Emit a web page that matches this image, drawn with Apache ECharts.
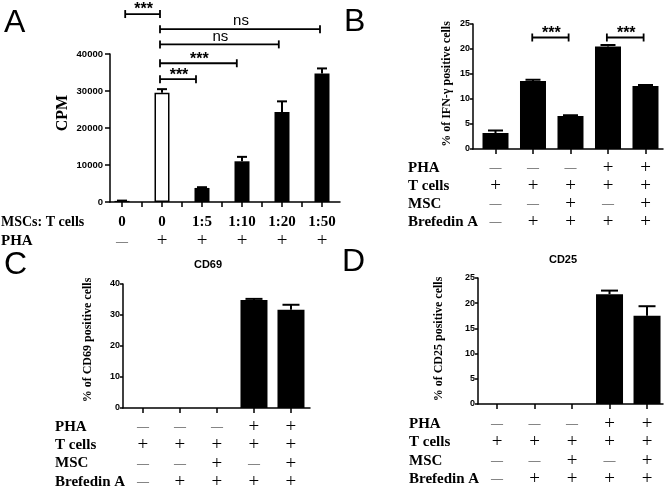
<!DOCTYPE html>
<html>
<head>
<meta charset="utf-8">
<script src="https://cdn.jsdelivr.net/npm/echarts@6/dist/echarts.min.js"></script>
<style>
html, body { margin: 0; padding: 0; background: #fff; }
#main { width: 672px; height: 492px; }
</style>
</head>
<body>
<div id="main"></div>
<script>
// panel A - proliferation (CPM), bars sit at x = 1..6
var ratioA = ['0', '0', '1:5', '1:10', '1:20', '1:50'];
var phaA = ['-', '+', '+', '+', '+', '+'];
var cpm = [300, 29500, 3800, 11000, 24300, 34700];
var cpmErr = [380, 30500, 4000, 12200, 27200, 36100];
// [from, to, height, label]
var sigA = [
	[1.08, 1.95, 50800, '***'],
	[1.95, 5.95, 46700, 'ns'],
	[1.95, 4.92, 42600, 'ns'],
	[1.95, 3.87, 37500, '***'],
	[1.95, 2.85, 33200, '***']
];

// conditions for B, C, D
var pha = ['-', '-', '-', '+', '+'];
var tcells = ['+', '+', '+', '+', '+'];
var msc = ['-', '-', '+', '-', '+'];
var bref = ['-', '+', '+', '+', '+'];

// panel B - IFN-gamma
var ifng = [3.2, 13.6, 6.6, 20.5, 12.6];
var ifngErr = [3.7, 13.85, 6.75, 20.8, 12.8];
var sigB = [
	[1.98, 2.95, 22.3, '***'],
	[3.97, 4.95, 22.3, '***']
];

// panel C - CD69, panel D - CD25
var cd69 = [0, 0, 0, 34.8, 31.7];
var cd69Err = [null, null, null, 35.2, 33.3];
var cd25 = [0, 0, 0, 21.8, 17.5];
var cd25Err = [null, null, null, 22.5, 19.4];

var SERIF = "'Liberation Serif', 'Times New Roman', serif";
var SANS = "'Liberation Sans', Arial, sans-serif";

var myChart = echarts.init(document.getElementById('main'));

function pos(list) {
	return list.map(function (v, i) { return i + 1; });
}

function rowsFormatter(rows) {
	return function (v) {
		var i = Math.round(v) - 1;
		return rows.map(function (r) {
			var s = r[i];
			if (s == '+') return '{p|+}';
			if (s == '-') return '{m|—}';
			return '{n|' + s + '}';
		}).join('\n');
	};
}

function richRows(lh) {
	return {
		n: { fontFamily: SERIF, fontWeight: 'bold', fontSize: 15, lineHeight: lh, color: '#000' },
		p: { fontFamily: SERIF, fontSize: 19, lineHeight: lh, color: '#000' },
		m: { fontFamily: SERIF, fontSize: 12, lineHeight: lh, color: '#444' }
	};
}

function xAxisFor(idx, min, max, ticks, rows, lh, margin) {
	return {
		type: 'value', gridIndex: idx, min: min, max: max,
		splitLine: { show: false },
		axisLine: { onZero: false, lineStyle: { color: '#000', width: 1.5 } },
		axisTick: { customValues: ticks, length: 5, lineStyle: { color: '#000', width: 1.5 } },
		axisLabel: {
			customValues: rows[0].map(function (v, i) { return i + 1; }),
			margin: margin,
			formatter: rowsFormatter(rows),
			rich: richRows(lh)
		}
	};
}

function yAxisFor(idx, max, interval, fs, tick, margin) {
	return {
		type: 'value', gridIndex: idx, min: 0, max: max, interval: interval,
		splitLine: { show: false },
		axisLine: { show: true, lineStyle: { color: '#000', width: 1.5 } },
		axisTick: { show: true, length: tick, lineStyle: { color: '#000', width: 1.5 } },
		axisLabel: {
			fontFamily: SANS, fontWeight: 'bold', fontSize: fs, color: '#000', margin: margin,
			formatter: function (v) { return String(v); }
		}
	};
}

function barSeries(idx, vals, width, hollow) {
	return {
		type: 'bar', xAxisIndex: idx, yAxisIndex: idx, barWidth: width,
		data: vals.map(function (v, i) {
			var item = { value: [i + 1, v] };
			if (hollow === i) {
				item.itemStyle = { color: '#fff', borderColor: '#000', borderWidth: 1.5 };
			}
			return item;
		}),
		itemStyle: { color: '#000' },
		silent: true
	};
}

function errSeries(idx, vals, errs, capW) {
	var d = [];
	for (var i = 0; i < vals.length; i++) {
		if (errs[i] != null) d.push([i + 1, vals[i], errs[i]]);
	}
	return {
		type: 'custom', xAxisIndex: idx, yAxisIndex: idx, clip: false, silent: true,
		encode: { x: 0, y: [1, 2] },
		data: d,
		renderItem: function (params, api) {
			var p0 = api.coord([api.value(0), api.value(1)]);
			var p1 = api.coord([api.value(0), api.value(2)]);
			return {
				type: 'group',
				children: [
					{ type: 'line', shape: { x1: p0[0], y1: p0[1], x2: p1[0], y2: p1[1] }, style: { stroke: '#000', lineWidth: 2 } },
					{ type: 'line', shape: { x1: p1[0] - capW / 2, y1: p1[1], x2: p1[0] + capW / 2, y2: p1[1] }, style: { stroke: '#000', lineWidth: 2 } }
				]
			};
		}
	};
}

function sigSeries(idx, list) {
	return {
		type: 'custom', xAxisIndex: idx, yAxisIndex: idx, clip: false, silent: true,
		encode: { x: [0, 1], y: 2 },
		data: list.map(function (s) { return [s[0], s[1], s[2]]; }),
		renderItem: function (params, api) {
			var a = api.coord([api.value(0), api.value(2)]);
			var b = api.coord([api.value(1), api.value(2)]);
			var lab = list[params.dataIndex][3];
			var stars = lab == '***';
			return {
				type: 'group',
				children: [
					{ type: 'line', shape: { x1: a[0], y1: a[1], x2: b[0], y2: b[1] }, style: { stroke: '#000', lineWidth: 1.8 } },
					{ type: 'line', shape: { x1: a[0], y1: a[1] - 4, x2: a[0], y2: a[1] + 4 }, style: { stroke: '#000', lineWidth: 1.8 } },
					{ type: 'line', shape: { x1: b[0], y1: b[1] - 4, x2: b[0], y2: b[1] + 4 }, style: { stroke: '#000', lineWidth: 1.8 } },
					{
						type: 'text', x: (a[0] + b[0]) / 2 + 1, y: a[1] - (stars ? 4 : 8),
						style: {
							text: lab, fill: '#000', align: 'center', verticalAlign: 'middle',
							font: (stars ? 'bold 16px ' : '15px ') + SANS
						}
					}
				]
			};
		}
	};
}

function txt(s, x, y, font, align, rot) {
	return {
		type: 'text', x: x, y: y, rotation: rot || 0, silent: true,
		style: { text: s, font: font, fill: '#000', align: align || 'left', verticalAlign: 'middle' }
	};
}

var rowFont = 'bold 15px ' + SERIF;
var titleFont = 'bold 12px ' + SERIF;

option = {
	animation: false,
	backgroundColor: '#fff',
	grid: [
		{ left: 110, top: 54, width: 230, height: 148 },
		{ left: 473, top: 24, width: 190, height: 125 },
		{ left: 123, top: 284, width: 187, height: 124 },
		{ left: 478, top: 278, width: 185, height: 126 }
	],
	xAxis: [
		xAxisFor(0, 0.7, 6.45, [1, 1.5, 2, 2.5, 3, 3.5, 4, 4.5, 5, 5.5, 6], [ratioA, phaA], 19, 11),
		xAxisFor(1, 0.4, 5.467, pos(pha), [pha, tcells, msc, bref], 18, 10),
		xAxisFor(2, 0.46, 5.514, pos(pha), [pha, tcells, msc, bref], 18.3, 10),
		xAxisFor(3, 0.493, 5.426, pos(pha), [pha, tcells, msc, bref], 18.3, 11)
	],
	yAxis: [
		yAxisFor(0, 40000, 10000, 9.5, 5, 7),
		yAxisFor(1, 25, 5, 9, 3, 3),
		yAxisFor(2, 40, 10, 9, 3, 3),
		yAxisFor(3, 25, 5, 9, 3, 3)
	],
	series: [
		barSeries(0, cpm, 15, 1),
		errSeries(0, cpm, cpmErr, 10),
		sigSeries(0, sigA),
		barSeries(1, ifng, 26),
		errSeries(1, ifng, ifngErr, 15),
		sigSeries(1, sigB),
		barSeries(2, cd69, 27),
		errSeries(2, cd69, cd69Err, 17),
		barSeries(3, cd25, 27),
		errSeries(3, cd25, cd25Err, 17)
	],
	graphic: [
		// panel letters
		txt('A', 4, 23, '32px ' + SANS),
		txt('B', 344, 22, '32px ' + SANS),
		txt('C', 4, 265, '32px ' + SANS),
		txt('D', 342, 262, '32px ' + SANS),
		// panel titles
		txt('CD69', 208, 265, 'bold 11px ' + SANS, 'center'),
		txt('CD25', 563, 260, 'bold 11px ' + SANS, 'center'),
		// y axis titles
		txt('CPM', 63, 113, 'bold 16px ' + SERIF, 'center', Math.PI / 2),
		txt('% of IFN-γ positive cells', 447, 84, titleFont, 'center', Math.PI / 2),
		txt('% of CD69 positive cells', 88, 340, titleFont, 'center', Math.PI / 2),
		txt('% of CD25 positive cells', 439, 339, titleFont, 'center', Math.PI / 2),
		// row titles
		txt('MSCs: T cells', 1, 222.5, 'bold 14px ' + SERIF),
		txt('PHA', 1, 241.5, rowFont),
		txt('PHA', 408, 168, rowFont),
		txt('T cells', 408, 186, rowFont),
		txt('MSC', 408, 204, rowFont),
		txt('Brefedin A', 408, 222, rowFont),
		txt('PHA', 55, 427, rowFont),
		txt('T cells', 55, 445, rowFont),
		txt('MSC', 55, 463.5, rowFont),
		txt('Brefedin A', 55, 482, rowFont),
		txt('PHA', 409, 424, rowFont),
		txt('T cells', 409, 442, rowFont),
		txt('MSC', 409, 461, rowFont),
		txt('Brefedin A', 409, 479, rowFont)
	]
};
myChart.setOption(option);
</script>
</body>
</html>
